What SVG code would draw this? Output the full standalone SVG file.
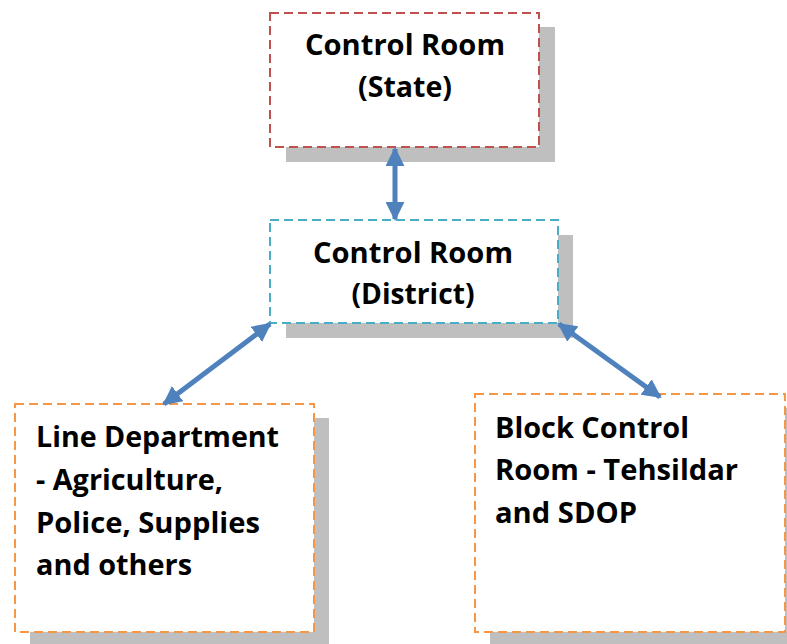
<svg xmlns="http://www.w3.org/2000/svg" width="787" height="644" viewBox="0 0 787 644">
<defs>
<style>
.shadow{fill:#bfbfbf}
.box{fill:#ffffff;stroke-width:2;stroke-dasharray:9 5}
.t{font-family:"Open Sans","Noto Sans","Liberation Sans",sans-serif;font-weight:bold;font-size:28px;fill:#000}
.conn{stroke:#4f81bd;stroke-width:5;fill:none;marker-start:url(#ah);marker-end:url(#ah)}
</style>
<marker id="ah" viewBox="0 0 10 10" refX="9" refY="5" markerWidth="19" markerHeight="19" markerUnits="userSpaceOnUse" orient="auto-start-reverse">
<path d="M0,0 L10,5 L0,10 z" fill="#4f81bd"/>
</marker>
</defs>
<rect width="787" height="644" fill="#ffffff"/>
<g id="state">
<rect class="shadow" x="286" y="27" width="269" height="135"/>
<rect class="box" x="270" y="13" width="269" height="134" stroke="#c0504d"/>
<text class="t" x="405" y="55" text-anchor="middle" textLength="200" lengthAdjust="spacingAndGlyphs">Control Room</text>
<text class="t" x="405" y="97" text-anchor="middle" textLength="94" lengthAdjust="spacingAndGlyphs">(State)</text>
</g>
<g id="district">
<rect class="shadow" x="286" y="235" width="287" height="103"/>
<rect class="box" x="270" y="220" width="288" height="103" stroke="#4bacc6"/>
<text class="t" x="413" y="263" text-anchor="middle" textLength="200" lengthAdjust="spacingAndGlyphs">Control Room</text>
<text class="t" x="413" y="304" text-anchor="middle" textLength="123" lengthAdjust="spacingAndGlyphs">(District)</text>
</g>
<g id="line-dept">
<rect class="shadow" x="30" y="418" width="299" height="226"/>
<rect class="box" x="15" y="404" width="299" height="228" stroke="#f79646"/>
<text class="t" x="36" y="447" textLength="243" lengthAdjust="spacingAndGlyphs">Line Department</text>
<text class="t" x="36" y="490" textLength="187" lengthAdjust="spacingAndGlyphs">- Agriculture,</text>
<text class="t" x="36" y="533" textLength="224" lengthAdjust="spacingAndGlyphs">Police, Supplies</text>
<text class="t" x="36" y="575" textLength="156" lengthAdjust="spacingAndGlyphs">and others</text>
</g>
<g id="block">
<rect class="shadow" x="490" y="408" width="310" height="236"/>
<rect class="box" x="475" y="394" width="310" height="238" stroke="#f79646"/>
<text class="t" x="495" y="438" textLength="194" lengthAdjust="spacingAndGlyphs">Block Control</text>
<text class="t" x="495" y="480" textLength="243" lengthAdjust="spacingAndGlyphs">Room - Tehsildar</text>
<text class="t" x="495" y="523" textLength="142" lengthAdjust="spacingAndGlyphs">and SDOP</text>
</g>
<g id="connectors">
<line class="conn" x1="395" y1="149" x2="395" y2="219"/>
<line class="conn" x1="164" y1="404" x2="270" y2="324"/>
<line class="conn" x1="559" y1="324" x2="660" y2="397"/>
</g>
</svg>
